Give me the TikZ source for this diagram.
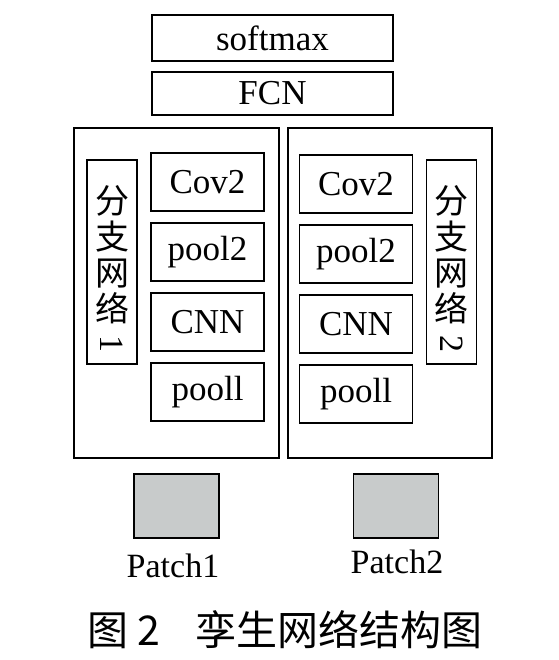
\documentclass[tikz,border=0pt]{standalone}
\usepackage{fontspec}
\setmainfont{Liberation Serif}
\newfontfamily\cjk{Noto Sans CJK SC}
\begin{document}
\begin{tikzpicture}[x=1pt, y=-1pt,
    box/.style={draw, line width=1.6pt, inner sep=0pt},
    layer/.style={box, minimum width=113pt, minimum height=58pt,
        font=\fontsize{35}{35}\selectfont},
    branch/.style={box, minimum width=50pt, minimum height=204pt, align=center,
        font=\cjk\fontsize{34}{36}\selectfont},
    patch/.style={box, minimum width=85pt, minimum height=64pt, fill=patchgray}]
    \definecolor{patchgray}{RGB}{200,203,203}
    \path[use as bounding box] (0,0) rectangle (558,660);

    % Top layers
    \node[box, minimum width=241pt, minimum height=46pt,
        font=\fontsize{35}{35}\selectfont] (softmax) at (272.5,38) {softmax};
    \node[box, minimum width=241pt, minimum height=43pt,
        font=\fontsize{35}{35}\selectfont] (fcn) at (272.5,93.5) {FCN};

    % Branch frames
    \node[box, minimum width=205pt, minimum height=330pt] (frame1) at (176.5,293) {};
    \node[box, minimum width=204pt, minimum height=330pt] (frame2) at (390,293) {};

    % Branch labels
    \node[branch] (b1) at (112,262)
        {\rule{0pt}{44pt}分\\支\\网\\络\\[-2pt]{\rmfamily\rotatebox[origin=c]{-90}{1}}};
    \node[branch] (b2) at (451.5,262)
        {\rule{0pt}{44pt}分\\支\\网\\络\\[-2pt]{\rmfamily\rotatebox[origin=c]{-90}{2}}};

    % Left branch layers
    \node[layer] (cov1) at (207.5,182) {Cov2};
    \node[layer] (pooltwo1) at (207.5,252) {pool2};
    \node[layer] (cnn1) at (207.5,322) {CNN};
    \node[layer] (poolone1) at (207.5,392) {pooll};

    % Right branch layers
    \node[layer] (cov2) at (356,184) {Cov2};
    \node[layer] (pooltwo2) at (356,254) {pool2};
    \node[layer] (cnn2) at (356,324) {CNN};
    \node[layer] (poolone2) at (356,394) {pooll};

    % Input patches
    \node[patch] (p1) at (176.5,506) {};
    \node[patch] (p2) at (396,506) {};
    \node[anchor=base, font=\fontsize{34}{34}\selectfont] (p1lab) at (173,577) {Patch1};
    \node[anchor=base, font=\fontsize{34}{34}\selectfont] (p2lab) at (397,573) {Patch2};

    % Caption
    \node[anchor=base, font=\cjk\fontsize{41}{41}\selectfont] (cap) at (285,645)
        {图 2\hspace{36pt}孪生网络结构图};
\end{tikzpicture}
\end{document}
